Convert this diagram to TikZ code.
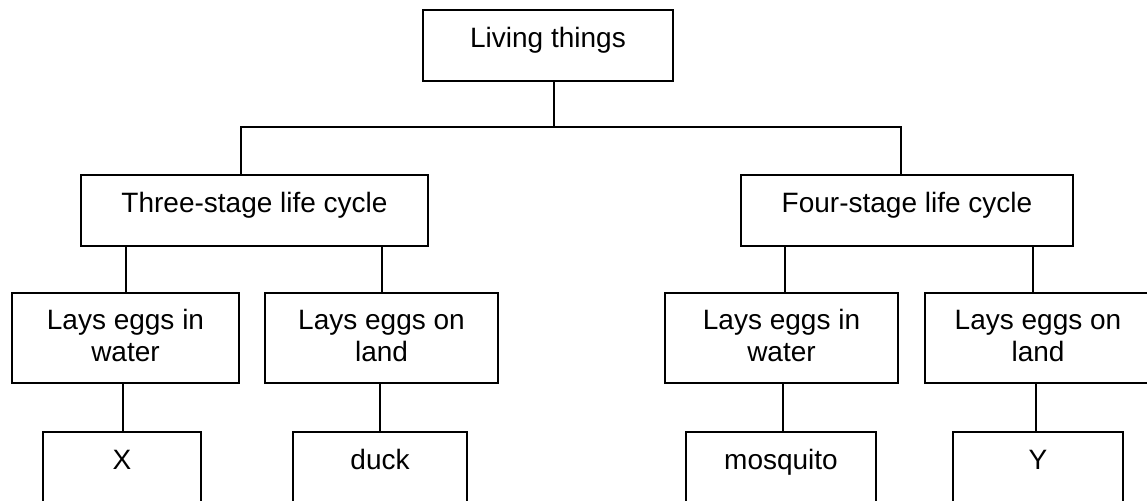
\documentclass[tikz,border=0pt]{standalone}
\usepackage{fontspec}
\setmainfont{Liberation Sans}
\begin{document}
\begin{tikzpicture}[x=1pt,y=-1pt,
  box/.style={draw, line width=2.4pt, inner sep=0pt, align=center, anchor=base,
    font=\fontsize{28}{32}\selectfont},
  rootbox/.style={box, text height=38pt, text depth=33pt},
  midbox/.style={box, text height=37pt, text depth=34pt},
  twobox/.style={box, text height=68pt, text depth=22pt},
  leafbox/.style={box, text height=37pt, text depth=56pt},
  link/.style={line width=2.4pt}]
\useasboundingbox (0,0) rectangle (1147,500);
\clip (0,0) rectangle (1147,500);
% level 1
\node[rootbox, minimum width=250pt] (root) at (548,48) {Living things};
% level 2
\node[midbox, minimum width=347pt] (three) at (254.5,212) {Three-stage life cycle};
\node[midbox, minimum width=332pt] (four) at (907,212) {Four-stage life cycle};
% level 3
\node[twobox, minimum width=227pt] (lw) at (125.5,361) {Lays eggs in\\water};
\node[twobox, minimum width=233pt] (ll) at (381.5,361) {Lays eggs on\\land};
\node[twobox, minimum width=233pt] (rw) at (781.5,361) {Lays eggs in\\water};
\node[twobox, minimum width=226pt] (rl) at (1038,361) {Lays eggs on\\land};
% level 4
\node[leafbox, minimum width=158pt] (x) at (122,469) {X};
\node[leafbox, minimum width=174pt] (duck) at (380,469) {duck};
\node[leafbox, minimum width=190pt] (mosq) at (781,469) {mosquito};
\node[leafbox, minimum width=170pt] (y) at (1038,469) {Y};
% connectors
\coordinate (jM) at (554,127);
\coordinate (jL) at (241,127);
\coordinate (jR) at (901,127);
\draw[link] (root.south -| jM) -- (jM);
\draw[link] (three.north -| jL) -- (jL) -- (jR) -- (four.north -| jR);
\draw[link] (three.south -| 126,0) -- (lw.north -| 126,0);
\draw[link] (three.south -| 382,0) -- (ll.north -| 382,0);
\draw[link] (four.south -| 785,0) -- (rw.north -| 785,0);
\draw[link] (four.south -| 1033,0) -- (rl.north -| 1033,0);
\draw[link] (lw.south -| 123,0) -- (x.north -| 123,0);
\draw[link] (ll.south -| 380,0) -- (duck.north -| 380,0);
\draw[link] (rw.south -| 783,0) -- (mosq.north -| 783,0);
\draw[link] (rl.south -| 1036,0) -- (y.north -| 1036,0);
\end{tikzpicture}
\end{document}
